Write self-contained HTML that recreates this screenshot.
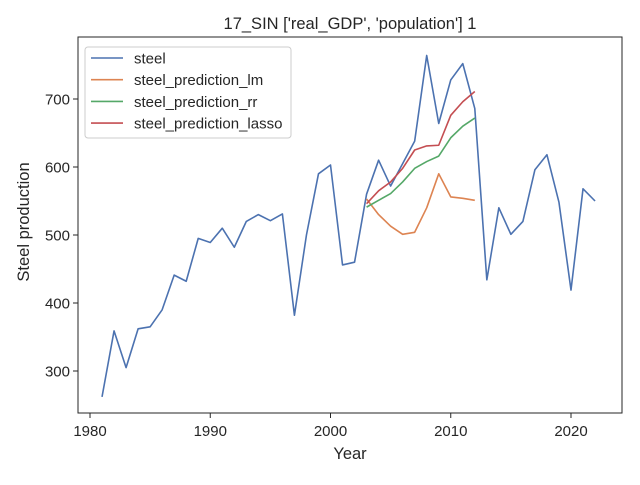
<!DOCTYPE html>
<html><head><meta charset="utf-8"><style>
body{margin:0;background:#fff;font-family:"Liberation Sans","DejaVu Sans",sans-serif}
svg text{font-family:"Liberation Sans","DejaVu Sans",sans-serif;fill:#262626}
</style></head><body>
<svg id="c" width="640" height="480"></svg>
<script>
const years=[1981,1982,1983,1984,1985,1986,1987,1988,1989,1990,1991,1992,1993,1994,1995,1996,1997,1998,1999,2000,2001,2002,2003,2004,2005,2006,2007,2008,2009,2010,2011,2012,2013,2014,2015,2016,2017,2018,2019,2020,2021,2022];
const steel=[262,359,305,362,365,390,441,432,495,489,510,482,520,530,521,531,382,500,590,603,456,460,560,610,572,605,638,764,664,728,752,686,434,540,501,520,596,618,548,419,568,550];
const predYears=[2003,2004,2005,2006,2007,2008,2009,2010,2011,2012];
const lm=[553,530,513,501,504,540,590,556,554,551];
const rr=[541,551,561,578,598,608,616,643,660,672];
const lasso=[546,565,578,598,625,631,632,676,696,711];
const xTicks=[1980,1990,2000,2010,2020];
const yTicks=[300,400,500,600,700];
const X=yr=>90+(yr-1980)*12.025;
const Y=v=>99+(700-v)*0.68;
const NS='http://www.w3.org/2000/svg';
const svg=document.getElementById('c');
function mk(t,a,p){const e=document.createElementNS(NS,t);for(const k in a)e.setAttribute(k,a[k]);(p||svg).appendChild(e);return e;}
let e;
e=mk('text',{x:350,y:29,'text-anchor':'middle','font-size':16.5});e.textContent="17_SIN ['real_GDP', 'population'] 1";


xTicks.forEach(t=>{mk('line',{x1:X(t),x2:X(t),y1:413,y2:418,stroke:'#262626','stroke-width':1});
 e=mk('text',{x:X(t),y:436,'text-anchor':'middle','font-size':15});e.textContent=t;
 
 });
yTicks.forEach(t=>{mk('line',{x1:73,x2:78,y1:Y(t),y2:Y(t),stroke:'#262626','stroke-width':1});
 e=mk('text',{x:70,y:Y(t)+5.5,'text-anchor':'end','font-size':15});e.textContent=t;
 
 });
e=mk('text',{x:350,y:459,'text-anchor':'middle','font-size':16.5});e.textContent='Year';


e=mk('text',{x:29,y:222,'text-anchor':'middle','font-size':16.5,transform:'rotate(-90 29 222)'});e.textContent='Steel production';


function line(xs,vs,c,name){e=mk('polyline',{points:xs.map((x,i)=>X(x)+','+Y(vs[i])).join(' '),fill:'none',stroke:c,'stroke-width':1.6,'stroke-linejoin':'round'});
 
 }
line(years,steel,'#4c72b0','steel-line');
line(predYears,lm,'#dd8452','lm-line');
line(predYears,rr,'#55a868','rr-line');
line(predYears,lasso,'#c44e52','lasso-line');
e=mk('rect',{x:78,y:37,width:544,height:376,fill:'none',stroke:'#262626','stroke-width':1});


const lg=mk('g',{});


mk('rect',{x:85,y:47,width:206,height:91,rx:3,fill:'#fff',stroke:'#ccc','stroke-width':1},lg);
const names=['steel','steel_prediction_lm','steel_prediction_rr','steel_prediction_lasso'];
const cols=['#4c72b0','#dd8452','#55a868','#c44e52'];
names.forEach((n,i)=>{const y=58+i*21.7;
 mk('line',{x1:91,x2:123,y1:y,y2:y,stroke:cols[i],'stroke-width':1.6},lg);
 e=mk('text',{x:134,y:y+5.5,'font-size':15},lg);e.textContent=n;
 
 });
</script>
</body></html>
